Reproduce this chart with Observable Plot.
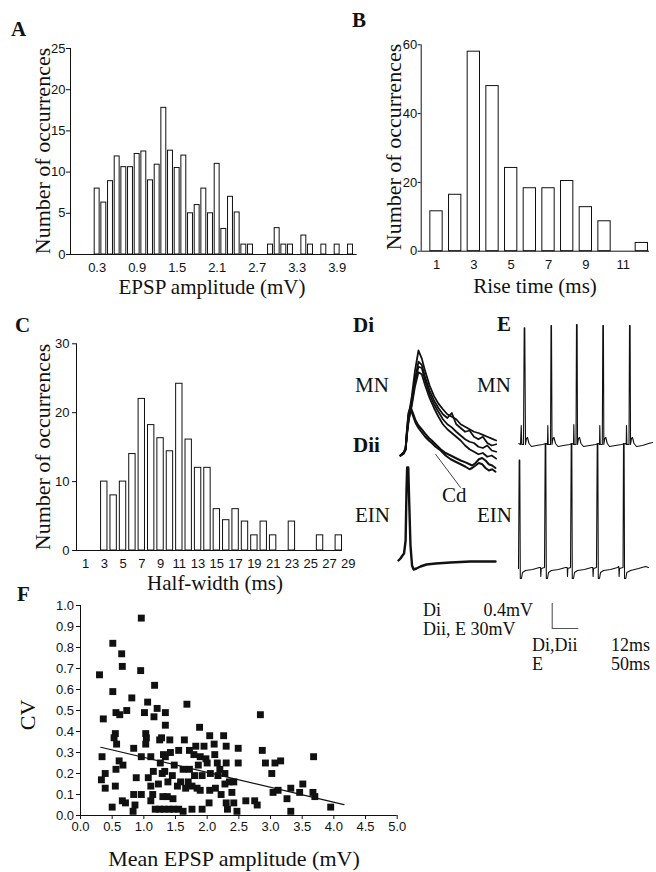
<!DOCTYPE html>
<html><head><meta charset="utf-8">
<script src="https://cdn.jsdelivr.net/npm/d3@7"></script>
<script src="https://cdn.jsdelivr.net/npm/@observablehq/plot@0.6"></script>
<style>
html,body{margin:0;padding:0;background:#fff;}
#root{position:relative;width:656px;height:872px;overflow:hidden;background:#fff;}
.t{position:absolute;font-family:"Liberation Serif","Times New Roman",serif;color:#111;white-space:nowrap;line-height:1;}
</style></head><body><div id="root"></div>
<script>
// ---------- Panel A: EPSP amplitude histogram ----------
const aAmp   = [0.3,0.4,0.5,0.6,0.7,0.8,0.9,1.0,1.1,1.2,1.3,1.4,1.5,1.6,1.7,1.8,1.9,2.0,2.1,2.2,2.3,2.4,2.5,2.6,2.9,3.0,3.1,3.2,3.4,3.5,3.7,3.9,4.1];
const aCount = [8,6.3,8.9,11.9,10.6,10.6,12.2,12.5,9,10.9,17.8,12.6,10.5,12,5,6,8,5,11,3.1,7,5.1,1.2,1.2,1.2,3.2,1.2,1.2,2.3,1.2,1.2,1.2,1.2];
const aXTicks = [0.3,0.9,1.5,2.1,2.7,3.3,3.9];
const aYTicks = [0,5,10,15,20,25];

// ---------- Panel B: rise time histogram ----------
const bRise  = [1,2,3,4,5,6,7,8,9,10,11,12];
const bCount = [11.6,16.4,58,48,24.2,18.3,18.3,20.4,12.8,8.7,0,2.4];
const bXTicks = [1,3,5,7,9,11];
const bYTicks = [0,20,40,60];

// ---------- Panel C: half-width histogram ----------
const cWidth = [3,4,5,6,7,8,9,10,11,12,13,14,15,16,17,18,19,20,21,22,23,24,25,26,27,28];
const cCount = [10,8,10,14,22,18.2,16.3,14.4,24.2,16.1,12,12,6,4.4,6,4.2,2.2,4.2,2.2,0,4.2,0,0,2.2,0,2.2];
const cXTicks = [1,3,5,7,9,11,13,15,17,19,21,23,25,27,29];
const cYTicks = [0,10,20,30];

// ---------- Panel F: CV vs mean EPSP amplitude ----------
const fAmp = [0.96,0.51,0.65,0.66,0.30,0.95,1.17,0.51,0.81,1.68,1.06,0.73,0.56,0.62,1.01,1.21,1.16,1.34,0.36,1.34,1.88,0.55,0.53,0.57,1.03,1.04,1.03,1.25,1.28,1.41,0.84,0.34,0.96,1.11,1.31,1.34,1.55,1.64,1.79,1.82,0.61,0.67,0.33,0.39,0.39,0.56,0.55,0.50,0.66,0.71,0.88,0.84,0.96,0.86,0.83,1.07,1.11,1.14,1.11,1.26,1.23,1.29,1.33,1.30,1.37,1.46,1.18,1.25,1.32,1.40,1.47,1.55,1.62,1.53,1.58,1.66,1.70,1.76,1.84,1.89,1.76,1.92,1.92,1.89,2.84,2.04,2.26,1.95,2.11,2.30,2.49,2.87,3.68,2.00,2.16,2.30,2.49,2.92,3.07,3.16,3.02,2.05,2.17,2.04,2.13,2.28,2.35,2.42,2.39,2.03,2.30,2.32,2.42,2.47,2.61,2.75,2.79,3.04,3.12,3.32,3.26,3.32,3.46,3.51,3.67,3.70,3.95,1.42,1.48,1.62,1.72,1.86,1.98,2.20,1.80,2.22,1.38,1.45,1.15,2.12,1.72,2.28];
const fCV  = [0.94,0.82,0.77,0.71,0.67,0.69,0.62,0.59,0.56,0.53,0.54,0.50,0.49,0.48,0.49,0.51,0.47,0.49,0.46,0.43,0.42,0.39,0.37,0.34,0.39,0.37,0.34,0.36,0.37,0.36,0.32,0.28,0.28,0.28,0.29,0.28,0.31,0.36,0.29,0.33,0.26,0.24,0.17,0.20,0.13,0.22,0.14,0.04,0.07,0.06,0.18,0.10,0.10,0.05,0.02,0.18,0.14,0.10,0.07,0.25,0.15,0.20,0.21,0.09,0.09,0.08,0.03,0.03,0.03,0.03,0.03,0.03,0.02,0.14,0.16,0.13,0.16,0.14,0.13,0.12,0.03,0.03,0.19,0.28,0.48,0.38,0.38,0.33,0.34,0.33,0.32,0.31,0.28,0.25,0.25,0.25,0.25,0.25,0.25,0.26,0.20,0.20,0.19,0.12,0.13,0.15,0.16,0.16,0.11,0.06,0.06,0.03,0.06,0.02,0.07,0.07,0.05,0.11,0.12,0.13,0.08,0.02,0.11,0.15,0.11,0.09,0.04,0.30,0.24,0.22,0.22,0.24,0.27,0.22,0.19,0.10,0.16,0.19,0.21,0.29,0.31,0.20];
const fFitAmp = [0.32,4.16];
const fFitCV  = [0.325,0.052];
const fXTicks = [0,0.5,1,1.5,2,2.5,3,3.5,4,4.5,5];
const fYTicks = [0,0.1,0.2,0.3,0.4,0.5,0.6,0.7,0.8,0.9,1.0];

// ---------- Panel Di: MN EPSPs (ms, mV from baseline) ----------
const diUpperT = [0.9,2.3,3.2,3.8,4.6,6,7.4,9,10.5,12,14,16,18,20,22,24,26,28,30,32,34,36,38,40,42,44];
const diMN1 = [0,0.05,0.11,0.37,0.64,0.95,1.35,1.68,1.55,1.35,1.12,0.95,0.83,0.74,0.66,0.62,0.58,0.5,0.46,0.42,0.38,0.36,0.33,0.3,0.27,0.24];
const diMN2 = [0,0.04,0.1,0.35,0.6,0.88,1.22,1.5,1.45,1.25,1.04,0.88,0.76,0.66,0.6,0.68,0.5,0.44,0.38,0.4,0.3,0.26,0.3,0.2,0.16,0.18];
const diMN3 = [0,0.05,0.12,0.34,0.58,0.84,1.16,1.42,1.4,1.2,0.98,0.82,0.7,0.58,0.5,0.45,0.38,0.32,0.26,0.22,0.2,0.14,0.12,0.16,0.08,0.06];
const diMN4 = [0,0.03,0.1,0.32,0.56,0.8,1.1,1.33,1.3,1.12,0.92,0.76,0.62,0.5,0.42,0.36,0.3,0.24,0.16,0.1,0.06,0.02,0.04,-0.02,0,-0.05];
const diCdT = [0.9,2.3,3.2,3.8,4.5,5.4,6.5,7.7,9,10.7,12,13.7,15,16.7,19,21.2,23.5,25.7,28,30.2,32,33.2,34.7,36.2,37.7,39.2,40.7,42.2,43.7];
const diCd1 = [0,0.04,0.1,0.4,0.68,0.78,0.68,0.56,0.48,0.41,0.35,0.28,0.24,0.18,0.1,0.04,0,-0.04,-0.08,-0.11,-0.14,-0.16,-0.12,-0.06,-0.04,-0.08,-0.14,-0.16,-0.2];
const diCd2 = [0,0.03,0.09,0.38,0.65,0.74,0.64,0.52,0.44,0.36,0.3,0.24,0.2,0.14,0.08,0,-0.06,-0.1,-0.14,-0.18,-0.22,-0.2,-0.16,-0.12,-0.14,-0.2,-0.24,-0.22,-0.26];
const cdPointerT = [16.7,27.9];
const cdPointerV = [0.02,-0.51];

// ---------- Panel Dii: EIN spike (ms, mV) ----------
const diiEINT = [0,0.9,1.8,2.5,3.2,3.6,3.9,4.4,4.8,5.4,6.1,6.8,8.1,9.9,12.6,16.7,23.4,32.4,43.7];
const diiEINV = [0,2.4,6,8.4,24,84,111.6,111.6,72,18,-6,-10.8,-9.6,-7.2,-4.8,-3.6,-2.4,-1.2,-1.2];

// ---------- Panel E: MN and EIN firing (ms, mV) ----------
const eMNT = [0.6,3.8,5.1,6.2,9.4,10.7,11.8,13.2,15,16.9,19.7,24.4,33.8,45.1,52.6,
  54.5,55.1,55.8,60.2,61.1,62,63,64.9,66.7,69.6,74.3,84.6,95.9,102.5,
  103.4,104,104.7,108.1,109,110.2,110.9,112.8,114.7,117.5,122.2,133.5,144.8,151.3,
  152.3,152.8,153.6,157.5,158.5,159.6,160.4,162.2,164.1,166.9,171.1,182.4,193.6,201.2,
  202.5,203,203.8,207.7,208.7,209.8,210.6,212.4,214.3,217.1,221.8,233.1,244.4,251.9];
const eMNV = [1.2,0,22.8,0,0,140,140,0,7.2,8.4,1.2,-2.4,-1.2,0,1.2,
  0,22.8,0,0,142.8,142.8,0,7.2,8.4,1.2,-2.4,-1.2,0,1.2,
  0,24,0,0,144,144,0,7.2,8.4,1.2,-2.4,-1.2,0,1.2,
  0,22.8,0,0,142.8,142.8,0,7.2,8.4,1.2,-2.4,-1.2,0,1.2,
  0,22.8,0,0,142.8,142.8,0,7.2,8.4,1.2,-2.4,-1.2,1.2,2.4];
const eEINT = [0,1.3,2.4,3.4,5.6,7.5,13.2,26.3,39.5,41.4,41.9,42.7,
  48.9,50.2,51.3,52.3,54.5,56.4,62,75.2,88.4,91.6,92.1,92.7,
  97.8,99.1,100.2,101.1,103.4,105.3,110.9,124.1,137.2,139.7,140.2,141,
  146.6,148,149.1,150,152.3,154.2,159.8,173,186.1,188.6,189.1,189.9,
  196.5,197.4,198.5,199.3,201.7,203.6,210.6,225.6,238.8,244.4];
const eEINV = [0,130,130,-12,-12,-4.8,-2.4,-1.2,1.2,1.2,-9.6,0,
  1.2,150,150,-12,-12,-4.8,-2.4,-1.2,1.2,1.2,-9.6,0,
  1.2,150,150,-12,-12,-4.8,-2.4,-1.2,1.2,1.2,-9.6,0,
  1.2,150,150,-12,-12,-4.8,-2.4,-1.2,1.2,2.4,-9.6,0,
  1.2,150,150,-12,-12,-4.8,-2.4,0,2.4,1.2];

// ---------- Scale bar ----------
const sbMs = 12, sbMv = 0.4;

// ================= drawing =================
const root = document.getElementById("root");
const INK = "#111";
const tickStyle = {fontFamily: '"Liberation Sans", Arial, sans-serif', fontSize: "13px", color: INK, background: "transparent", overflow: "visible"};

function place(el, left, top) {
  el.style.position = "absolute"; el.style.left = left + "px"; el.style.top = top + "px";
  root.appendChild(el);
}
function txt(str, x, baseline, size, opt = {}) {
  const d = document.createElement("div");
  d.className = "t"; d.textContent = str;
  d.style.fontSize = size + "px";
  d.style.fontWeight = opt.bold ? "bold" : "normal";
  d.style.top = (baseline - 0.8375 * size) + "px";
  if (opt.anchor === "middle") { d.style.left = x + "px"; d.style.transform = "translateX(-50%)"; }
  else if (opt.anchor === "end") { d.style.right = (656 - x) + "px"; }
  else d.style.left = x + "px";
  root.appendChild(d);
}
function rtxt(str, cx, cy, size) {
  const d = document.createElement("div");
  d.className = "t"; d.textContent = str; d.style.fontSize = size + "px";
  d.style.left = cx + "px"; d.style.top = cy + "px";
  d.style.transform = "translate(-50%,-50%) rotate(-90deg)";
  root.appendChild(d);
}

// Panel A
{
  const data = aAmp.map((x, i) => ({x, n: aCount[i]}));
  const xd = [-0.1, 4.16];
  place(Plot.plot({
    width: 360, height: 300, marginLeft: 70, marginRight: 6, marginTop: 48, marginBottom: 46,
    x: {domain: xd}, y: {domain: [0, 25]}, style: tickStyle,
    marks: [
      Plot.rect(data, {x1: d => d.x - 0.037, x2: d => d.x + 0.037, y1: 0, y2: "n", fill: "white", stroke: INK, strokeWidth: 1}),
      Plot.ruleY([0], {x1: xd[0], x2: 4.2, stroke: INK}),
      Plot.ruleX([xd[0]], {y1: 0, y2: 25, stroke: INK}),
      Plot.axisY({ticks: aYTicks, tickSize: 4, tickPadding: 1, label: null}),
      Plot.axisX({ticks: aXTicks, tickSize: 0, tickPadding: 8, label: null, tickFormat: d3.format(".1f")})
    ]
  }), 0, 0);
}
// Panel B
{
  const data = bRise.map((x, i) => ({x, n: bCount[i]}));
  const xd = [0.18, 12.41];
  place(Plot.plot({
    width: 326, height: 300, marginLeft: 90.7, marginRight: 7, marginTop: 44.3, marginBottom: 49.3,
    x: {domain: xd}, y: {domain: [0, 60]}, style: tickStyle,
    marks: [
      Plot.rect(data.filter(d => d.n > 0), {x1: d => d.x - 0.33, x2: d => d.x + 0.33, y1: 0, y2: "n", fill: "white", stroke: INK, strokeWidth: 1}),
      Plot.ruleY([0], {x1: xd[0], x2: xd[1], stroke: INK}),
      Plot.ruleX([xd[0]], {y1: 0, y2: 60, stroke: INK}),
      Plot.axisY({ticks: bYTicks, tickSize: 3, tickPadding: 1, label: null}),
      Plot.axisX({ticks: bXTicks, tickSize: 0, tickPadding: 9, label: null})
    ]
  }), 330, 0);
}
// Panel C
{
  const data = cWidth.map((x, i) => ({x, n: cCount[i]})).filter(d => d.n > 0);
  const xd = [0.04, 29.3];
  place(Plot.plot({
    width: 360, height: 300, marginLeft: 76, marginRight: 9.5, marginTop: 43.3, marginBottom: 50,
    x: {domain: xd}, y: {domain: [0, 30]}, style: tickStyle,
    marks: [
      Plot.rect(data, {x1: d => d.x - 0.34, x2: d => d.x + 0.34, y1: 0, y2: "n", fill: "white", stroke: INK, strokeWidth: 1}),
      Plot.ruleY([0], {x1: xd[0], x2: 28.4, stroke: INK}),
      Plot.ruleX([xd[0]], {y1: 0, y2: 30, stroke: INK}),
      Plot.axisY({ticks: cYTicks, tickSize: 4, tickPadding: 3, label: null}),
      Plot.axisX({ticks: cXTicks, tickSize: 0, tickPadding: 8, label: null})
    ]
  }), 0, 300);
}
// Panel F
{
  const pts = fAmp.map((x, i) => ({x, y: fCV[i]}));
  const fit = fFitAmp.map((x, i) => ({x, y: fFitCV[i]}));
  place(Plot.plot({
    width: 420, height: 282, marginLeft: 80, marginRight: 23.3, marginTop: 15, marginBottom: 57,
    x: {domain: [0, 5]}, y: {domain: [0, 1]}, style: tickStyle,
    marks: [
      Plot.ruleY([0], {x1: 0, x2: 5, stroke: INK}),
      Plot.ruleX([0], {y1: 0, y2: 1, stroke: INK}),
      Plot.line(fit, {x: "x", y: "y", stroke: INK, strokeWidth: 1.2}),
      Plot.dot(pts, {x: "x", y: "y", symbol: "square", r: 3.9, fill: INK, stroke: "none"}),
      Plot.axisY({ticks: fYTicks, tickSize: 4, tickPadding: 2.5, label: null, tickFormat: d3.format(".1f")}),
      Plot.axisX({ticks: fXTicks, tickSize: 4, tickPadding: 2.5, label: null, tickFormat: d3.format(".1f")})
    ]
  }), 0, 590);
}
// Traces helper
function tracePlot(left, top, width, height, xDomain, yDomain, marks) {
  place(Plot.plot({width, height, margin: 0, x: {domain: xDomain, axis: null}, y: {domain: yDomain, axis: null},
    style: {background: "transparent", overflow: "visible"}, marks}), left, top);
}
// Di
{
  const up = [diMN1, diMN2, diMN3, diMN4].flatMap((s, k) => s.map((v, i) => ({t: diUpperT[i], v, k})));
  const cd = [diCd1, diCd2].flatMap((s, k) => s.map((v, i) => ({t: diCdT[i], v, k})));
  const ptr = cdPointerT.map((t, i) => ({t, v: cdPointerV[i]}));
  tracePlot(398, 340, 110, 155, [0, 49.55], [-0.64, 1.84], [
    Plot.line(up, {x: "t", y: "v", z: "k", stroke: INK, strokeWidth: 1.8}),
    Plot.line(cd, {x: "t", y: "v", z: "k", stroke: INK, strokeWidth: 2}),
    Plot.line(ptr, {x: "t", y: "v", stroke: INK, strokeWidth: 0.8})
  ]);
}
// Dii
{
  const d = diiEINT.map((t, i) => ({t, v: diiEINV[i]}));
  tracePlot(398, 455, 110, 125, [0, 49.55], [-24, 126], [
    Plot.line(d, {x: "t", y: "v", stroke: INK, strokeWidth: 2.4})
  ]);
}
// E
{
  const mn = eMNT.map((t, i) => ({t, v: eMNV[i]}));
  const ein = eEINT.map((t, i) => ({t, v: eEINV[i]}));
  tracePlot(515, 315, 141, 145, [-5.64, 259.4], [-19.2, 154.8], [
    Plot.line(mn, {x: "t", y: "v", stroke: INK, strokeWidth: 1.1})
  ]);
  tracePlot(515, 435, 141, 150, [-5.64, 259.4], [-20.4, 159.6], [
    Plot.line(ein, {x: "t", y: "v", stroke: INK, strokeWidth: 1.1})
  ]);
}
// Scale bar
tracePlot(540, 595, 50, 40, [-5.27, 17.25], [-0.112, 0.528], [
  Plot.ruleX([0], {y1: 0, y2: sbMv, stroke: "#444", strokeWidth: 1}),
  Plot.ruleY([0], {x1: 0, x2: sbMs, stroke: "#555", strokeWidth: 1})
]);

// ---------- texts ----------
txt("A", 11, 37, 21, {bold: true});
txt("B", 352, 28, 21, {bold: true});
txt("C", 15, 333, 21, {bold: true});
txt("F", 17, 602, 21, {bold: true});
txt("Di", 353, 333, 21, {bold: true});
txt("Dii", 353, 453, 21, {bold: true});
txt("E", 497, 332, 21, {bold: true});
txt("MN", 355, 393, 21);
txt("EIN", 355, 523, 21);
txt("MN", 477, 393, 21);
txt("EIN", 477, 523, 21);
txt("Cd", 442, 503, 21);

rtxt("Number of occurrences", 43, 151, 22);
txt("EPSP amplitude (mV)", 212, 295, 21, {anchor: "middle"});
rtxt("Number of occurrences", 394, 147, 22);
txt("Rise time (ms)", 535, 294, 21, {anchor: "middle"});
rtxt("Number of occurrences", 43, 447, 22);
txt("Half-width (ms)", 215, 591, 21, {anchor: "middle"});
rtxt("CV", 28, 715, 22);
txt("Mean EPSP amplitude (mV)", 234, 866, 22, {anchor: "middle"});

txt("Di", 423, 616, 18);
txt("0.4mV", 533, 616, 18, {anchor: "end"});
txt("Dii, E 30mV", 423, 635, 18);
txt("Di,Dii", 532, 651, 18);
txt("12ms", 650, 651, 18, {anchor: "end"});
txt("E", 532, 670, 18);
txt("50ms", 650, 670, 18, {anchor: "end"});
</script></body></html>
